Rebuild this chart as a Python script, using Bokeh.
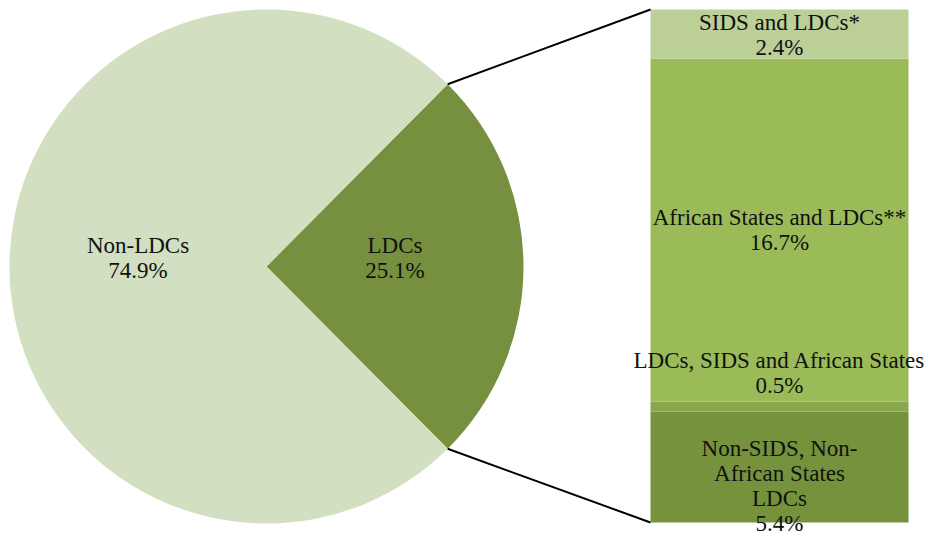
import math
from bokeh.plotting import figure
from bokeh.models import Range1d, ColumnDataSource
from bokeh.core.properties import value
from bokeh.embed import file_html
from bokeh.resources import INLINE

# ---- data ----
pie_labels = ["LDCs", "Non-LDCs"]
pie_values = [25.1, 74.9]
pie_colors = ["#76903F", "#D2DFC0"]

bar_labels = ["Non-SIDS, Non-\nAfrican States\nLDCs", "LDCs, SIDS and African States",
              "African States and LDCs**", "SIDS and LDCs*"]
bar_values = [5.4, 0.5, 16.7, 2.4]
bar_colors = ["#76923C", "#8AA74F", "#9BBB59", "#BBCF97"]

# ---- layout (page px -> data: x = px, y = 540 - py) ----
W, H = 928, 540
FONT = "Liberation Serif"
FS = "23px"
LH = 1.0
cx, cy, R = 266, 540 - 266, 257
bx0, bx1 = 650, 908
bar_bot_px, bar_top_px = 522, 9

ymin, ymax = 540 - H, 540
p = figure(width=W, height=H, output_backend="svg", toolbar_location=None,
           x_range=Range1d(0, W), y_range=Range1d(ymin, ymax),
           min_border=0)
p.axis.visible = False
p.grid.visible = False
p.outline_line_color = None
p.background_fill_color = "white"

# pie: LDCs slice centred on angle 0
half = pie_values[0] / sum(pie_values) * math.pi
starts = [-half, half]
ends = [half, 2 * math.pi - half]
p.wedge(x=cx, y=cy, radius=R, start_angle=starts, end_angle=ends,
        fill_color=pie_colors, line_color=None)

mids = [0.0, math.pi]
lx = [cx + 0.5 * R * math.cos(a) for a in mids]
ly = [cy + 0.5 * R * math.sin(a) for a in mids]
ptxt = [f"{l}\n{v}%" for l, v in zip(pie_labels, pie_values)]
p.text(x=lx, y=ly, text=ptxt, y_offset=-9, text_align="center", text_baseline="middle",
       text_font=value(FONT), text_font_size=FS, text_line_height=LH, text_color="#111111")

# bar on its own y-range
total = sum(bar_values)
y_bot, y_top = 540 - bar_bot_px, 540 - bar_top_px
scale = (y_top - y_bot) / total
p.extra_y_ranges = {"bar": Range1d((ymin - y_bot) / scale, (ymax - y_bot) / scale)}

bottoms, tops = [], []
acc = 0.0
for v in bar_values:
    bottoms.append(acc)
    acc += v
    tops.append(acc)
p.quad(left=bx0, right=bx1, bottom=bottoms, top=tops, fill_color=bar_colors,
       line_color=None, y_range_name="bar")

# connector lines
ux, uy = cx + R * math.cos(half), cy + R * math.sin(half)
dx, dy = cx + R * math.cos(-half), cy + R * math.sin(-half)
p.line(x=[ux, bx0], y=[uy, y_top], line_color="black", line_width=2)
p.line(x=[dx, bx0], y=[dy, y_bot], line_color="black", line_width=2)

# bar labels (screen offsets, positive = down)
offsets = [19, -34, 0, 1]
btxt = [f"{l}\n{v}%" for l, v in zip(bar_labels, bar_values)]
bmid = [(b + t) / 2 for b, t in zip(bottoms, tops)]
src = ColumnDataSource(dict(x=[(bx0 + bx1) / 2] * 4, y=bmid, text=btxt, off=offsets))
p.text(x="x", y="y", text="text", y_offset="off", source=src, y_range_name="bar",
       text_align="center", text_baseline="middle",
       text_font=value(FONT), text_font_size=FS, text_line_height=LH, text_color="#111111")

open("out.html", "w").write(file_html(p, INLINE))
